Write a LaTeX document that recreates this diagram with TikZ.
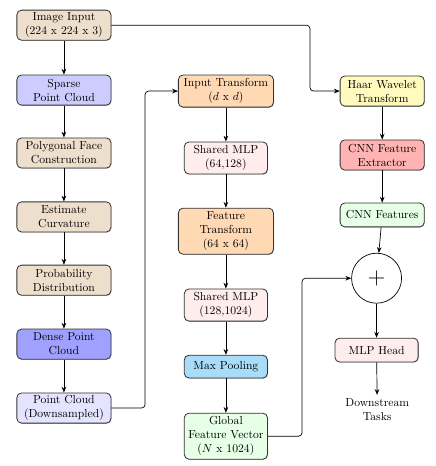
\documentclass[tikz,border=0pt]{standalone}
\usepackage{amsmath}
\usepackage{tikz}
\usetikzlibrary{shadows,arrows.meta}

\definecolor{tancol}{RGB}{238,222,204}
\definecolor{sparsecol}{RGB}{204,204,255}
\definecolor{densecol}{RGB}{160,160,255}
\definecolor{downcol}{RGB}{228,228,255}
\definecolor{transcol}{RGB}{255,217,179}
\definecolor{mlpcol}{RGB}{255,236,236}
\definecolor{poolcol}{RGB}{168,220,248}
\definecolor{featcol}{RGB}{230,255,230}
\definecolor{haarcol}{RGB}{255,250,190}
\definecolor{cnncol}{RGB}{255,179,179}

\begin{document}
\begin{tikzpicture}[>={Stealth[length=5pt,width=4pt]},
    block/.style={draw=black!80, line width=0.7pt, rounded corners=4pt, align=center,
      drop shadow={shadow xshift=0.6pt, shadow yshift=-0.6pt, opacity=0.4},
      minimum height=0.91cm, inner sep=2pt},
    wide/.style={block, minimum width=2.84cm},
    mid/.style={block, minimum width=2.87cm},
    slim/.style={block, minimum width=2.51cm},
    flow/.style={->, line width=0.6pt, rounded corners=3pt}]
    \useasboundingbox (0,0) rectangle (13.14,-14.07);

    % left column
    \node[wide, fill=tancol] (img) at (1.93,-0.76) {Image Input\\(224 x 224 x 3)};
    \node[wide, fill=sparsecol] (sparse) at (1.93,-2.72) {Sparse\\Point Cloud};
    \node[wide, fill=tancol] (poly) at (1.93,-4.62) {Polygonal Face\\Construction};
    \node[wide, fill=tancol] (curv) at (1.93,-6.55) {Estimate\\Curvature};
    \node[wide, fill=tancol] (prob) at (1.93,-8.46) {Probability\\Distribution};
    \node[wide, fill=densecol] (dense) at (1.93,-10.39) {Dense Point\\Cloud};
    \node[wide, fill=downcol] (down) at (1.93,-12.32) {Point Cloud\\(Downsampled)};

    % middle column
    \node[mid, fill=transcol, minimum height=0.97cm] (intrans) at (6.82,-2.75) {Input Transform\\($d$ x $d$)};
    \node[slim, fill=mlpcol, minimum height=0.97cm] (mlpa) at (6.82,-4.77) {Shared MLP\\(64,128)};
    \node[mid, fill=transcol, minimum height=1.39cm] (ftrans) at (6.82,-6.98) {Feature\\Transform\\(64 x 64)};
    \node[slim, fill=mlpcol, minimum height=0.97cm] (mlpb) at (6.82,-9.21) {Shared MLP\\(128,1024)};
    \node[slim, fill=poolcol, minimum height=0.69cm] (pool) at (6.82,-11.07) {Max Pooling};
    \node[slim, fill=featcol, minimum height=1.39cm] (glob) at (6.82,-13.17) {Global\\Feature Vector\\($N$ x 1024)};

    % right column
    \node[slim, minimum width=2.54cm, fill=haarcol] (haar) at (11.54,-2.75) {Haar Wavelet\\Transform};
    \node[slim, minimum width=2.54cm, fill=cnncol] (cnn) at (11.54,-4.68) {CNN Feature\\Extractor};
    \node[slim, minimum width=2.54cm, fill=featcol, minimum height=0.72cm] (cnnf) at (11.54,-6.49) {CNN Features};
    \node[draw, circle, line width=0.6pt, minimum size=1.51cm, inner sep=0pt] (sum) at (11.37,-8.40) {\huge $+$};
    \node[slim, fill=mlpcol, minimum height=0.72cm] (head) at (11.37,-10.57) {MLP Head};
    \node[align=center] (task) at (11.39,-12.38) {Downstream\\Tasks};

    % draw arrows
    \draw[flow] (img) -- (sparse);
    \draw[flow] (sparse) -- (poly);
    \draw[flow] (poly) -- (curv);
    \draw[flow] (curv) -- (prob);
    \draw[flow] (prob) -- (dense);
    \draw[flow] (dense) -- (down);
    \draw[flow] (down.east) -| (4.38,-6) |- (intrans.west);
    \draw[flow] (intrans) -- (mlpa);
    \draw[flow] (mlpa) -- (ftrans);
    \draw[flow] (ftrans) -- (mlpb);
    \draw[flow] (mlpb) -- (pool);
    \draw[flow] (pool) -- (glob);
    \draw[flow] (img.east) -| (9.36,-1.5) |- (haar.west);
    \draw[flow] (haar) -- (cnn);
    \draw[flow] (cnn) -- (cnnf);
    \draw[flow] (cnnf) -- (sum);
    \draw[flow] (glob.east) -| (9.12,-10) |- (sum.west);
    \draw[flow] (sum) -- (head);
    \draw[flow] (head) -- (task);
\end{tikzpicture}
\end{document}
